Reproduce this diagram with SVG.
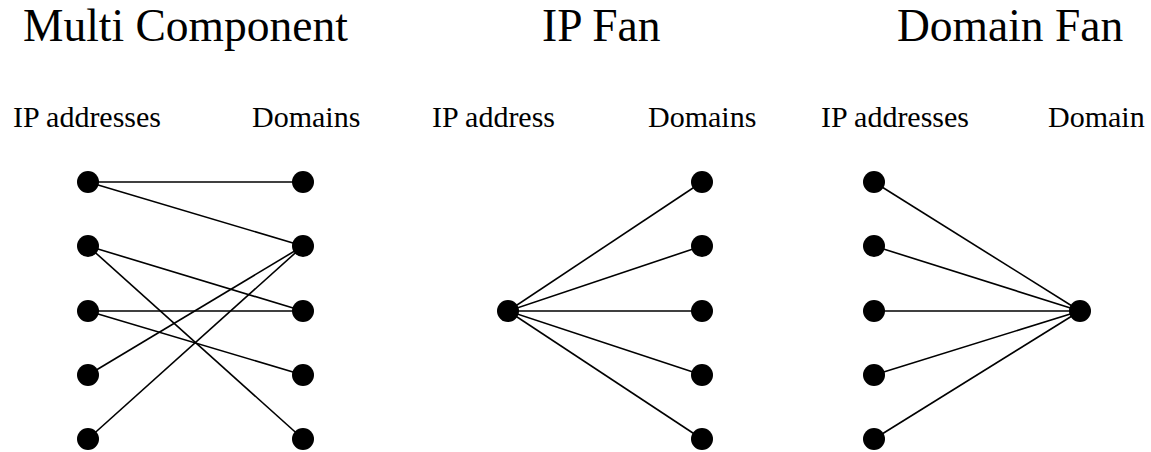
<svg xmlns="http://www.w3.org/2000/svg" width="1151" height="452" viewBox="0 0 1151 452">
<style>
.t{font-family:"Liberation Serif","Times New Roman",serif;font-size:45.5px;fill:#000}
.l{font-family:"Liberation Serif","Times New Roman",serif;font-size:30px;fill:#000}
.n{fill:#000}
.e{stroke:#000;stroke-width:1.6;fill:none}
</style>
<rect width="1151" height="452" fill="#fff"/>
<g id="titles">
<text class="t" x="23" y="41">Multi Component</text>
<text class="t" x="542" y="41">IP Fan</text>
<text class="t" x="897" y="41">Domain Fan</text>
</g>
<g id="labels">
<text class="l" x="13" y="127">IP addresses</text>
<text class="l" x="252" y="127">Domains</text>
<text class="l" x="432" y="127">IP address</text>
<text class="l" x="648" y="127">Domains</text>
<text class="l" x="821" y="127">IP addresses</text>
<text class="l" x="1048" y="127">Domain</text>
</g>
<g id="connectors">
<line class="e" x1="88" y1="182" x2="303" y2="182"/>
<line class="e" x1="88" y1="182" x2="303" y2="246"/>
<line class="e" x1="88" y1="246" x2="303" y2="311"/>
<line class="e" x1="88" y1="246" x2="303" y2="439"/>
<line class="e" x1="88" y1="311" x2="303" y2="311"/>
<line class="e" x1="88" y1="311" x2="303" y2="375"/>
<line class="e" x1="88" y1="375" x2="303" y2="246"/>
<line class="e" x1="88" y1="439" x2="303" y2="246"/>
<line class="e" x1="508" y1="311" x2="702" y2="182"/>
<line class="e" x1="508" y1="311" x2="702" y2="246"/>
<line class="e" x1="508" y1="311" x2="702" y2="311"/>
<line class="e" x1="508" y1="311" x2="702" y2="375"/>
<line class="e" x1="508" y1="311" x2="702" y2="439"/>
<line class="e" x1="874" y1="182" x2="1080" y2="311"/>
<line class="e" x1="874" y1="246" x2="1080" y2="311"/>
<line class="e" x1="874" y1="311" x2="1080" y2="311"/>
<line class="e" x1="874" y1="375" x2="1080" y2="311"/>
<line class="e" x1="874" y1="439" x2="1080" y2="311"/>
</g>
<g id="mc-ip1"><circle class="n" cx="88" cy="182" r="11"/></g>
<g id="mc-ip2"><circle class="n" cx="88" cy="246" r="11"/></g>
<g id="mc-ip3"><circle class="n" cx="88" cy="311" r="11"/></g>
<g id="mc-ip4"><circle class="n" cx="88" cy="375" r="11"/></g>
<g id="mc-ip5"><circle class="n" cx="88" cy="439" r="11"/></g>
<g id="mc-d1"><circle class="n" cx="303" cy="182" r="11"/></g>
<g id="mc-d2"><circle class="n" cx="303" cy="246" r="11"/></g>
<g id="mc-d3"><circle class="n" cx="303" cy="311" r="11"/></g>
<g id="mc-d4"><circle class="n" cx="303" cy="375" r="11"/></g>
<g id="mc-d5"><circle class="n" cx="303" cy="439" r="11"/></g>
<g id="ipf-ip"><circle class="n" cx="508" cy="311" r="11"/></g>
<g id="ipf-d1"><circle class="n" cx="702" cy="182" r="11"/></g>
<g id="ipf-d2"><circle class="n" cx="702" cy="246" r="11"/></g>
<g id="ipf-d3"><circle class="n" cx="702" cy="311" r="11"/></g>
<g id="ipf-d4"><circle class="n" cx="702" cy="375" r="11"/></g>
<g id="ipf-d5"><circle class="n" cx="702" cy="439" r="11"/></g>
<g id="df-ip1"><circle class="n" cx="874" cy="182" r="11"/></g>
<g id="df-ip2"><circle class="n" cx="874" cy="246" r="11"/></g>
<g id="df-ip3"><circle class="n" cx="874" cy="311" r="11"/></g>
<g id="df-ip4"><circle class="n" cx="874" cy="375" r="11"/></g>
<g id="df-ip5"><circle class="n" cx="874" cy="439" r="11"/></g>
<g id="df-d"><circle class="n" cx="1080" cy="311" r="11"/></g>
</svg>
